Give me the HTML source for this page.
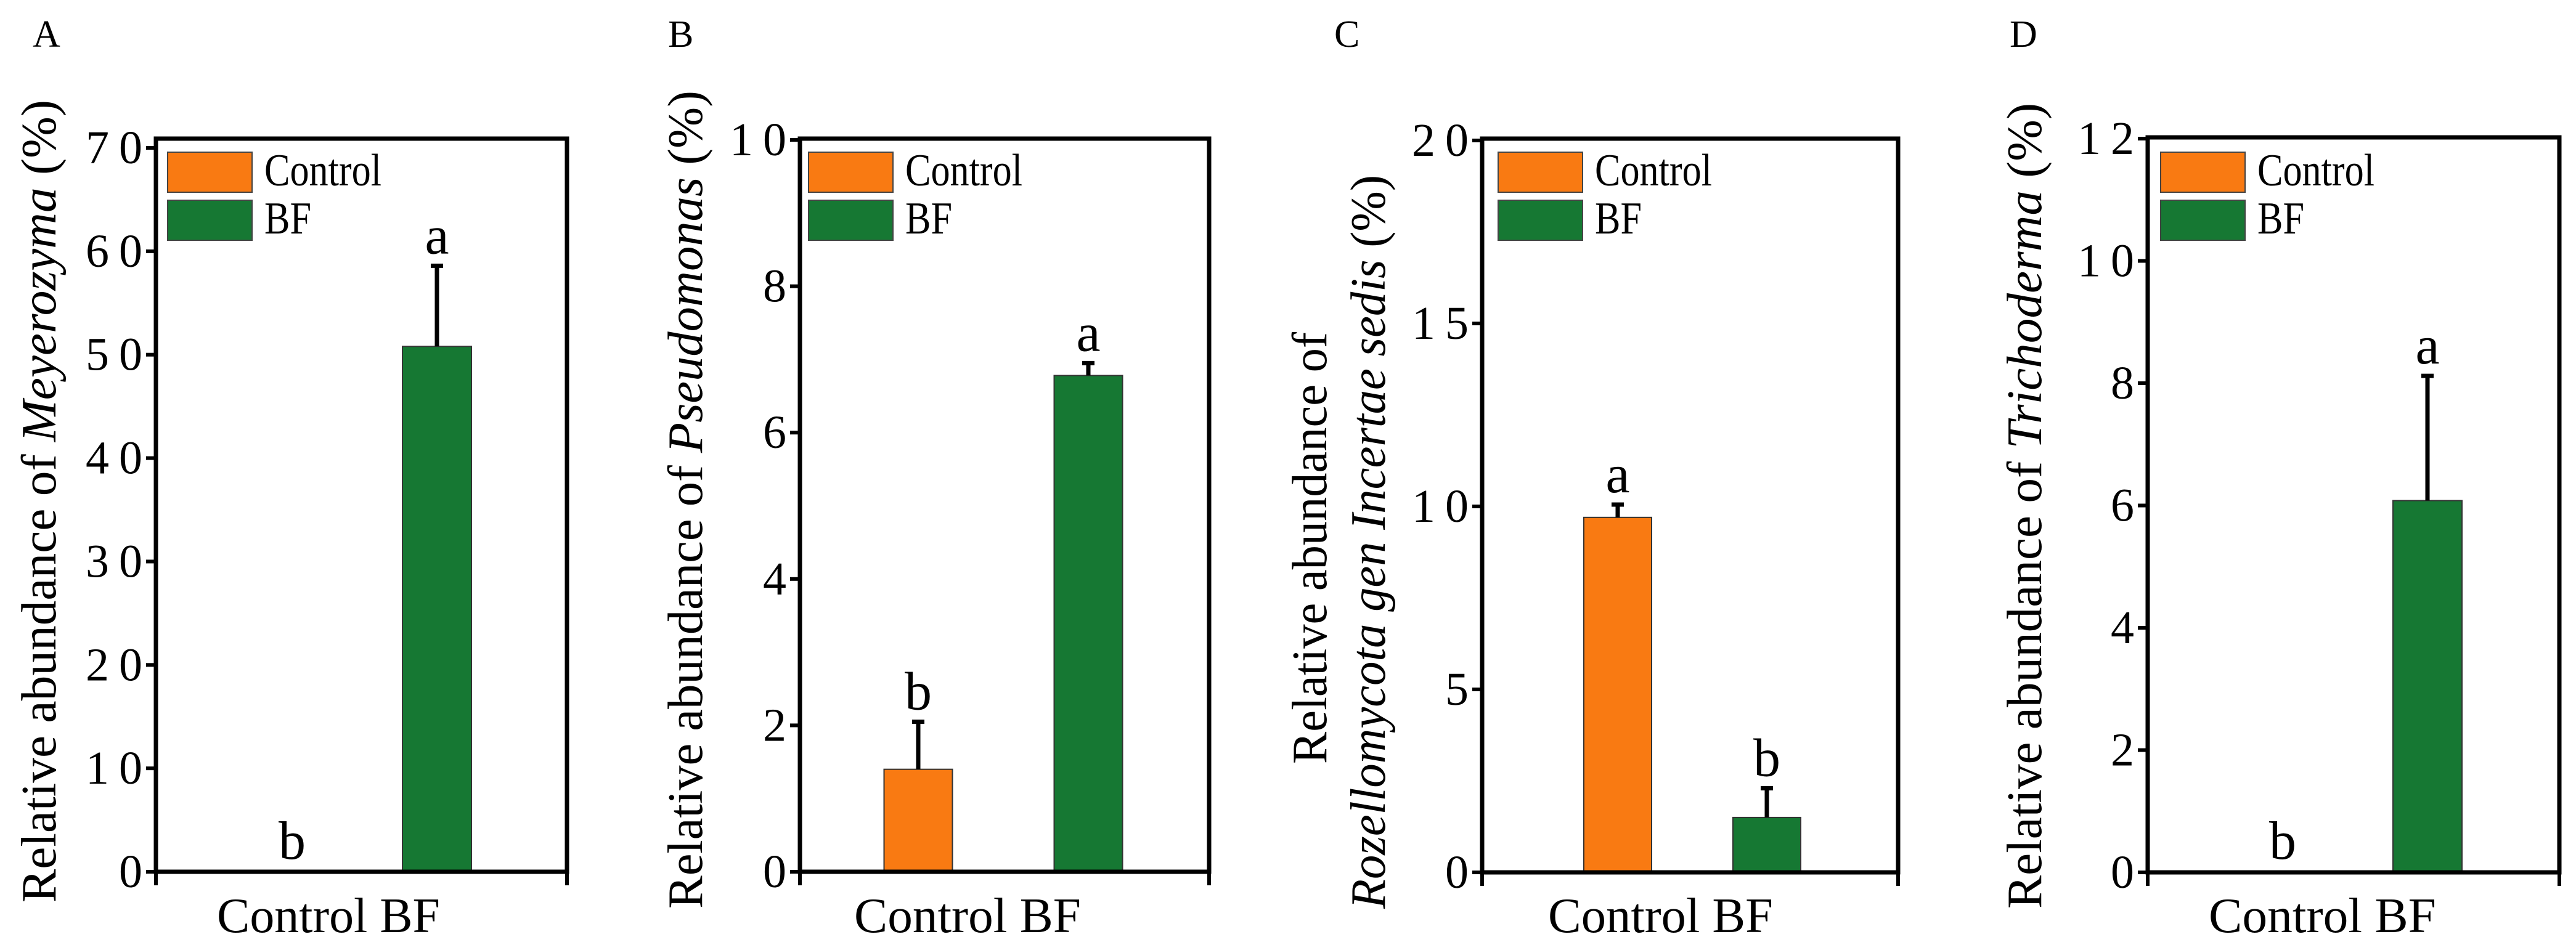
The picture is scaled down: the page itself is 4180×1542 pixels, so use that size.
<!DOCTYPE html>
<html><head><meta charset="utf-8">
<style>
html,body{margin:0;padding:0;background:#fff;}
svg, svg text{font-family:"Liberation Serif","Times New Roman",serif;}
</style></head>
<body>
<svg id="fig" width="4180" height="1537" viewBox="0 0 4180 1537" xmlns="http://www.w3.org/2000/svg" font-family="Liberation Serif, serif"></svg>
<script>
const categories = ["Control", "BF"];
const valuesA = [0.05, 50.8];
const errA = [0, 7.8];
const lettersA = ["b", "a"];
const ticksA = [0, 10, 20, 30, 40, 50, 60, 70];
const valuesB = [1.4, 6.78];
const errB = [0.65, 0.17];
const lettersB = ["b", "a"];
const ticksB = [0, 2, 4, 6, 8, 10];
const valuesC = [9.7, 1.5];
const errC = [0.35, 0.8];
const lettersC = ["a", "b"];
const ticksC = [0, 5, 10, 15, 20];
const valuesD = [0.02, 6.08];
const errD = [0, 2.04];
const lettersD = ["b", "a"];
const ticksD = [0, 2, 4, 6, 8, 10, 12];

const NS = "http://www.w3.org/2000/svg";
const svg = document.getElementById("fig");
const colors = ["#F97A12", "#167833"];
function mk(tag, attrs, parent, text){
  const e = document.createElementNS(NS, tag);
  for (const k in attrs) e.setAttribute(k, attrs[k]);
  if (tag === "text") e.setAttribute("font-family", "Liberation Serif, Times New Roman, serif");
  if (text !== undefined) e.textContent = text;
  (parent || svg).appendChild(e);
  return e;
}

const panels = [
  {id:"a", letter:"A", lx:53, values:valuesA, errs:errA, letters:lettersA, ticks:ticksA, max:70,
   x0:253, x1:920, y0:1415, yTop:240, frameTop:225, barW:112, cx:[474,709], legX:272, xlab:[352,714],
   title:[{cx:63, y1:162, y2:1465, parts:[["Relative  abundance of  ",false],["Meyerozyma",true],[" (%)",false]]}]},
  {id:"b", letter:"B", lx:1084, values:valuesB, errs:errB, letters:lettersB, ticks:ticksB, max:10,
   x0:1298, x1:1962, y0:1415, yTop:227, frameTop:225, barW:111, cx:[1490,1766], legX:1312, xlab:[1386,1754],
   title:[{cx:1112, y1:147, y2:1475, parts:[["Relative  abundance of  ",false],["Pseudomonas",true],[" (%)",false]]}]},
  {id:"c", letter:"C", lx:2165, values:valuesC, errs:errC, letters:lettersC, ticks:ticksC, max:20,
   x0:2405, x1:3080, y0:1416, yTop:228, frameTop:225, barW:110, cx:[2625,2867], legX:2431, xlab:[2512,2877],
   title:[{cx:2125, y1:539, y2:1240, parts:[["Relative abundance of",false]]},
          {cx:2220, y1:284, y2:1475, parts:[["Rozellomycota gen Incertae sedis",true],[" (%)",false]]}]},
  {id:"d", letter:"D", lx:3261, values:valuesD, errs:errD, letters:lettersD, ticks:ticksD, max:12,
   x0:3485, x1:4153, y0:1416, yTop:225, frameTop:223, barW:112, cx:[3704,3939], legX:3506, xlab:[3584,3953],
   title:[{cx:3285, y1:167, y2:1475, parts:[["Relative  abundance of  ",false],["Trichoderma",true],[" (%)",false]]}]}
];

panels.forEach(p => {
  const g = mk("g", {});
  
  
  const yScale = v => p.y0 - (v / p.max) * (p.y0 - p.yTop);

  const pl = mk("text", {x:p.lx, y:76, "font-size":62}, g, p.letter);
  
  

  p.values.forEach((v, i) => {
    const top = yScale(v);
    const r = mk("rect", {x:p.cx[i]-p.barW/2, y:top, width:p.barW, height:Math.max(p.y0-top,1),
      fill:colors[i], stroke:"#333", "stroke-width":2}, g);
    
    
    if (p.errs[i] > 0) {
      const et = yScale(v + p.errs[i]);
      const el = mk("path", {d:`M${p.cx[i]} ${top} V${et} M${p.cx[i]-10} ${et} H${p.cx[i]+10}`,
        stroke:"#000", "stroke-width":7, fill:"none"}, g);
      
      
    }
    const ly = yScale(v + p.errs[i]) - 20;
    const lt = mk("text", {x:p.cx[i], y:ly, "font-size":88, "text-anchor":"middle"}, g, p.letters[i]);
    
    
  });

  const fr = mk("path", {d:`M${p.x0} ${p.frameTop} H${p.x1} V${p.y0} H${p.x0} Z`, stroke:"#000", "stroke-width":7, fill:"none"}, g);
  
  
  const xt = mk("path", {d:`M${p.x0} ${p.y0} V${p.y0+22} M${p.x1} ${p.y0} V${p.y0+22}`, stroke:"#000", "stroke-width":6}, g);
  
  

  p.ticks.forEach(t => {
    const y = yScale(t);
    const tk = mk("line", {x1:p.x0-16, x2:p.x0, y1:y, y2:y, stroke:"#000", "stroke-width":6}, g);
    
    
    const s = String(t);
    const attrs = {x:p.x0-22, y:y+25, "font-size":76, "text-anchor":"end"};
    if (s.length > 1) { attrs.textLength = 92; attrs.lengthAdjust = "spacing"; }
    const tl = mk("text", attrs, g, s);
    
    
  });

  const xl = mk("text", {x:p.xlab[0], y:1513, "font-size":80, textLength:p.xlab[1]-p.xlab[0], lengthAdjust:"spacingAndGlyphs"}, g, "Control BF");
  
  

  categories.forEach((c, i) => {
    const ly = 247 + i*78;
    const lb = mk("rect", {x:p.legX, y:ly, width:137, height:65, fill:colors[i], stroke:"#444", "stroke-width":2}, g);
    
    
    const lt = mk("text", {x:p.legX+157, y:ly+54, "font-size":74, textLength: c === "Control" ? 190 : 76, lengthAdjust:"spacingAndGlyphs"}, g, c);
    
    
  });

  p.title.forEach(tt => {
    const cy = (tt.y1 + tt.y2) / 2;
    const t = mk("text", {x:0, y:0, "font-size":80, "text-anchor":"middle",
      transform:`translate(${tt.cx+27},${cy}) rotate(-90)`, textLength:tt.y2-tt.y1, lengthAdjust:"spacingAndGlyphs"}, g);
    
    
    tt.parts.forEach(([s, it]) => {
      mk("tspan", it ? {"font-style":"italic"} : {}, t, s);
    });
  });
});
</script>
</body></html>
